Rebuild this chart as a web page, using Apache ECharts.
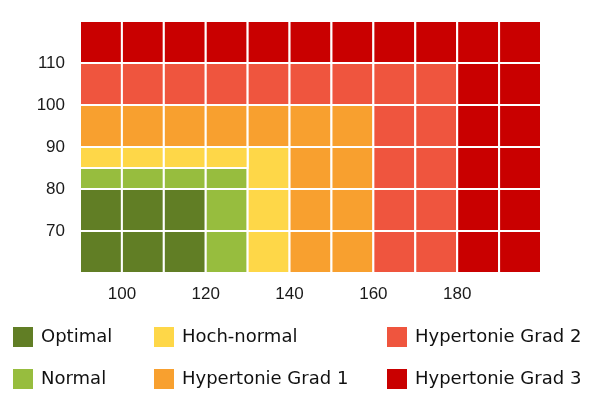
<!DOCTYPE html>
<html>
<head>
<meta charset="utf-8">
<script src="https://cdn.jsdelivr.net/npm/echarts@6/dist/echarts.min.js"></script>
<style>html,body{margin:0;padding:0;background:#fff}#c{width:600px;height:400px}</style>
</head>
<body>
<div id="c"></div>
<script>
// Category names and colours
const categoryNames = ['Optimal', 'Normal', 'Hoch-normal', 'Hypertonie Grad 1', 'Hypertonie Grad 2', 'Hypertonie Grad 3'];
const categoryColors = ['#617e25', '#97bd3e', '#fed748', '#f8a02f', '#ef553e', '#c90000'];

// Cells: [sysFrom, sysTo, diaFrom, diaTo]
const optimalCells = [
  [90,100,60,70],[100,110,60,70],[110,120,60,70],
  [90,100,70,80],[100,110,70,80],[110,120,70,80]
];
const normalCells = [
  [120,130,60,70],[120,130,70,80],
  [90,100,80,85],[100,110,80,85],[110,120,80,85],[120,130,80,85]
];
const hochNormalCells = [
  [130,140,60,70],[130,140,70,80],[130,140,80,90],
  [90,100,85,90],[100,110,85,90],[110,120,85,90],[120,130,85,90]
];
const grad1Cells = [
  [140,150,60,70],[150,160,60,70],
  [140,150,70,80],[150,160,70,80],
  [140,150,80,90],[150,160,80,90],
  [90,100,90,100],[100,110,90,100],[110,120,90,100],[120,130,90,100],[130,140,90,100],[140,150,90,100],[150,160,90,100]
];
const grad2Cells = [
  [160,170,60,70],[170,180,60,70],
  [160,170,70,80],[170,180,70,80],
  [160,170,80,90],[170,180,80,90],
  [160,170,90,100],[170,180,90,100],
  [90,100,100,110],[100,110,100,110],[110,120,100,110],[120,130,100,110],[130,140,100,110],
  [140,150,100,110],[150,160,100,110],[160,170,100,110],[170,180,100,110]
];
const grad3Cells = [
  [180,190,60,70],[190,200,60,70],
  [180,190,70,80],[190,200,70,80],
  [180,190,80,90],[190,200,80,90],
  [180,190,90,100],[190,200,90,100],
  [180,190,100,110],[190,200,100,110],
  [90,100,110,120],[100,110,110,120],[110,120,110,120],[120,130,110,120],[130,140,110,120],
  [140,150,110,120],[150,160,110,120],[160,170,110,120],[170,180,110,120],[180,190,110,120],[190,200,110,120]
];
const cellGroups = [optimalCells, normalCells, hochNormalCells, grad1Cells, grad2Cells, grad3Cells];

// Axis ranges and tick labels
const xMin = 90, xMax = 200;
const yMin = 60, yMax = 120;
const xTickLabels = [100, 120, 140, 160, 180];
const yTickLabels = [70, 80, 90, 100, 110];

function renderItem(params, api) {
  const p0 = api.coord([api.value(0), api.value(3)]);
  const p1 = api.coord([api.value(1), api.value(2)]);
  return {
    type: 'rect',
    shape: { x: p0[0], y: p0[1], width: p1[0] - p0[0], height: p1[1] - p0[1] },
    style: { fill: api.visual('color'), stroke: '#ffffff', lineWidth: 2 }
  };
}

const series = categoryNames.map((name, i) => ({
  type: 'custom',
  name: name,
  renderItem: renderItem,
  itemStyle: { color: categoryColors[i] },
  encode: { x: [0, 1], y: [2, 3] },
  data: cellGroups[i],
  animation: false
}));

const legendText = { fontFamily: 'DejaVu Sans', fontSize: 18, color: '#111', padding: [0, 0, 0, 3] };
function makeLegend(left, names) {
  return {
    orient: 'vertical', left: left, top: 322, icon: 'rect',
    itemWidth: 20, itemHeight: 20, itemGap: 22,
    textStyle: legendText, data: names, selectedMode: false
  };
}

const chart = echarts.init(document.getElementById('c'), null, { renderer: 'canvas' });
chart.setOption({
  animation: false,
  backgroundColor: '#ffffff',
  grid: { left: 80, right: 59, top: 21, bottom: 127 },
  xAxis: {
    type: 'value', min: xMin, max: xMax, interval: 10,
    axisLine: { show: false }, axisTick: { show: false }, splitLine: { show: false },
    axisLabel: {
      margin: 13, fontFamily: 'Liberation Sans', fontSize: 17, color: '#1a1a1a',
      formatter: v => xTickLabels.includes(v) ? String(v) : ''
    }
  },
  yAxis: {
    type: 'value', min: yMin, max: yMax, interval: 10,
    axisLine: { show: false }, axisTick: { show: false }, splitLine: { show: false },
    axisLabel: {
      margin: 15, fontFamily: 'Liberation Sans', fontSize: 17, color: '#1a1a1a',
      formatter: v => yTickLabels.includes(v) ? String(v) : ''
    }
  },
  legend: [
    makeLegend(8, [categoryNames[0], categoryNames[1]]),
    makeLegend(149, [categoryNames[2], categoryNames[3]]),
    makeLegend(382, [categoryNames[4], categoryNames[5]])
  ],
  series: series
});
</script>
</body>
</html>
